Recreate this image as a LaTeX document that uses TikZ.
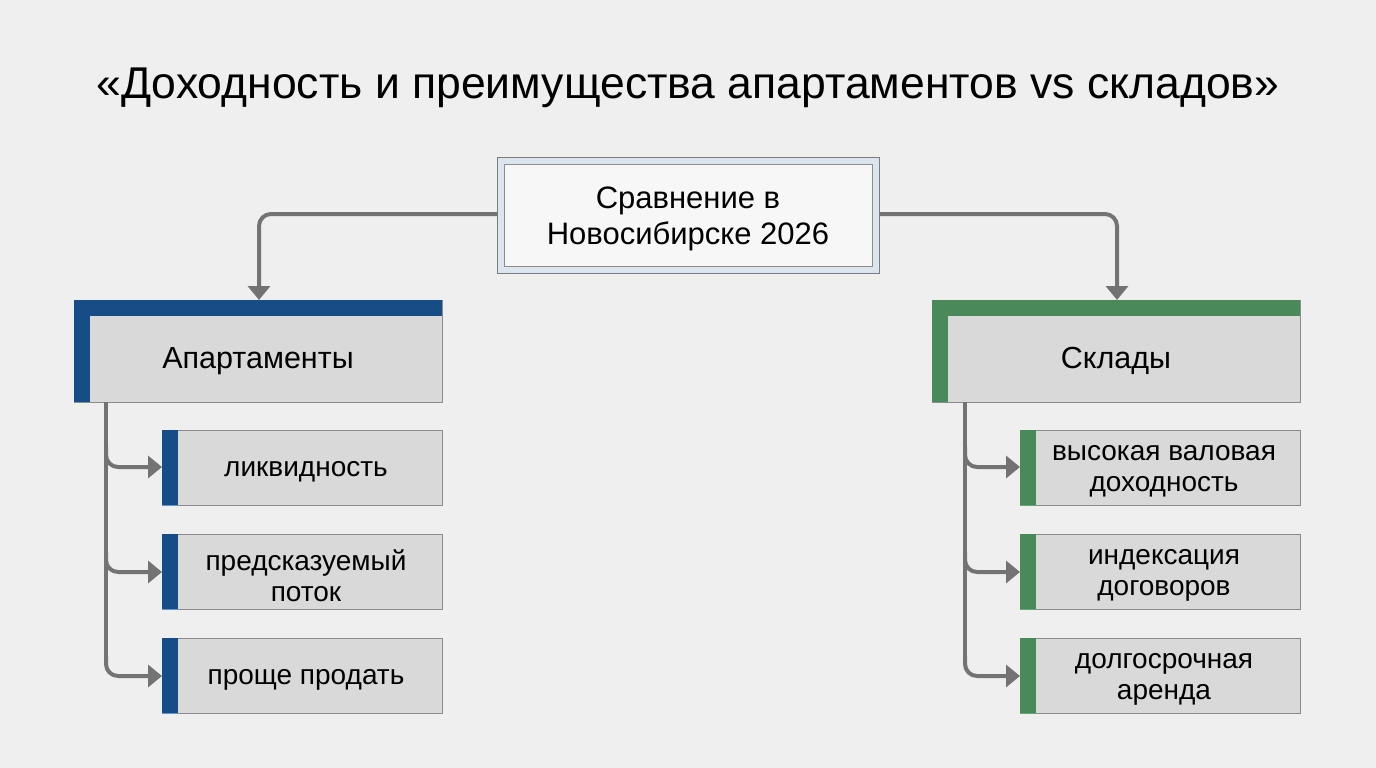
\documentclass[tikz,border=0pt]{standalone}
\usepackage{fontspec}
\setmainfont{Liberation Sans}
\usetikzlibrary{arrows.meta}
\definecolor{bg}{HTML}{EFEFEF}
\definecolor{boxf}{HTML}{D9D9D9}
\definecolor{boxd}{HTML}{8C8C8C}
\definecolor{blu}{HTML}{174D87}
\definecolor{grn}{HTML}{4A8A5A}
\definecolor{ln}{HTML}{737373}
\begin{document}
\begin{tikzpicture}[x=1pt,y=-1pt,
 box/.style={draw=boxd,fill=boxf,line width=1pt,inner sep=0pt,anchor=north west},
 conn/.style={draw=ln,line width=4pt,rounded corners=12pt,-{Triangle[length=14pt,width=22pt]}}]
\fill[bg] (0,0) rectangle (1376,768);
\useasboundingbox (0,0) rectangle (1376,768);
\node[font=\fontsize{44.5}{52}\selectfont] (title) at (688,88) {«Доходность и преимущества апартаментов vs складов»};
% center
\node[draw=blu!70,fill=blu!15!white,line width=1pt,minimum width=382pt,minimum height=116pt,anchor=north west] (c) at (497,157) {};
\node[draw=boxd,fill=bg!50!white,line width=1pt,minimum width=368pt,minimum height=102pt,align=center,font=\fontsize{31}{36}\selectfont] (ci) at (c.center) {};
\node[align=center,font=\fontsize{31}{36}\selectfont] (ct) at (688,219) {Сравнение в\\Новосибирске 2026};
% categories
\newcommand\cat[5]{%
 \node[box,minimum width=368pt,minimum height=102pt] (#1) at (#2,300) {};
 \fill[#4] (#2,300) rectangle ++(368,16);
 \fill[#4] (#2,300) rectangle ++(16,102);
 \node[font=\fontsize{30.5}{36}\selectfont] at (#2+184,361) {#5};}
\cat{a}{74}{}{blu}{Апартаменты}
\cat{s}{932}{}{grn}{Склады}
\newcommand\sub[5]{%
 \node[box,minimum width=280pt,minimum height=75pt] (#1) at (#2,#3) {};
 \fill[#4] (#2,#3) rectangle ++(16,75);
 \node[font=\fontsize{28}{31}\selectfont,align=center] at (#2+144,#3+41.5) {#5};}
\sub{a1}{162}{430}{blu}{ликвидность}
\sub{a2}{162}{534}{blu}{предсказуемый\\поток}
\sub{a3}{162}{638}{blu}{проще продать}
\sub{s1}{1020}{430}{grn}{высокая валовая\\доходность}
\sub{s2}{1020}{534}{grn}{индексация\\договоров}
\sub{s3}{1020}{638}{grn}{долгосрочная\\аренда}
% connectors
\draw[conn] (c.west|-0,214) -- (259,214) -- (259,300);
\draw[conn] (c.east|-0,214) -- (1117,214) -- (1117,300);
\foreach \x/\t in {106/162,965/1020}{
 \draw[ln,line width=4pt] (\x,402) -- (\x,660);
 \foreach \y in {467,572,676}
  \draw[conn] (\x,\y-20) -- (\x,\y) -- (\t,\y);}
\end{tikzpicture}
\end{document}
